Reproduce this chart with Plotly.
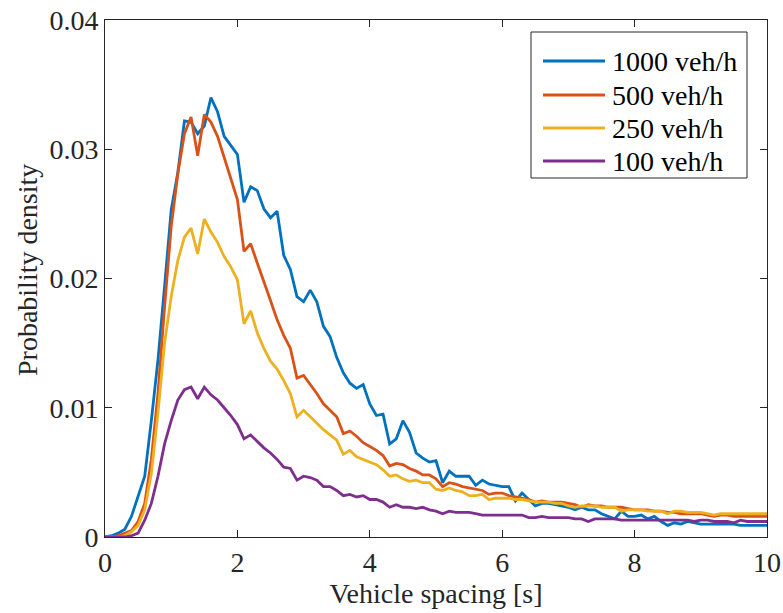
import numpy as np
import plotly.graph_objects as go

x_spacing = [round(i * 0.1, 1) for i in range(101)]

density_1000 = [0, 0.0001, 0.0003, 0.0006, 0.0016, 0.0031, 0.0047, 0.0090, 0.0137, 0.0194,
                0.0253, 0.0282, 0.0322, 0.0321, 0.0312, 0.0318, 0.0340, 0.0329, 0.0310, 0.0303,
                0.0296, 0.0259, 0.0271, 0.0268, 0.0254, 0.0247, 0.0252, 0.0218, 0.0207, 0.0186,
                0.0182, 0.0191, 0.0182, 0.0163, 0.0155, 0.0139, 0.0127, 0.0119, 0.0115, 0.0118,
                0.0103, 0.0094, 0.0095, 0.0072, 0.0076, 0.0090, 0.0081, 0.0065, 0.0061, 0.0058,
                0.0059, 0.0042, 0.0051, 0.0047, 0.0047, 0.0047, 0.0040, 0.0044, 0.0041, 0.0040,
                0.0039, 0.0039, 0.0028, 0.0034, 0.0029, 0.0024, 0.0026, 0.0026, 0.0025, 0.0024,
                0.0023, 0.0021, 0.0023, 0.0021, 0.0021, 0.0018, 0.0016, 0.0014, 0.0020, 0.0016,
                0.0016, 0.0017, 0.0014, 0.0016, 0.0012, 0.0009, 0.0011, 0.0010, 0.0012, 0.0011,
                0.0010, 0.0010, 0.0010, 0.0010, 0.0010, 0.0010, 0.0009, 0.0009, 0.0009, 0.0009,
                0.0009]

density_500 = [0, 0, 0.0001, 0.0003, 0.0005, 0.0012, 0.0026, 0.0060, 0.0111, 0.0178,
               0.0240, 0.0281, 0.0312, 0.0325, 0.0295, 0.0327, 0.0321, 0.0310, 0.0293, 0.0276,
               0.0261, 0.0221, 0.0227, 0.0212, 0.0198, 0.0183, 0.0168, 0.0156, 0.0146, 0.0123,
               0.0125, 0.0118, 0.0111, 0.0103, 0.0098, 0.0093, 0.0080, 0.0082, 0.0078, 0.0073,
               0.0070, 0.0067, 0.0063, 0.0055, 0.0057, 0.0056, 0.0053, 0.0051, 0.0048, 0.0048,
               0.0045, 0.0039, 0.0042, 0.0041, 0.0039, 0.0038, 0.0037, 0.0036, 0.0033, 0.0034,
               0.0034, 0.0032, 0.0031, 0.0030, 0.0029, 0.0027, 0.0028, 0.0027, 0.0027, 0.0027,
               0.0026, 0.0025, 0.0023, 0.0025, 0.0024, 0.0024, 0.0023, 0.0023, 0.0023, 0.0022,
               0.0021, 0.0021, 0.0021, 0.0020, 0.0020, 0.0019, 0.0019, 0.0018, 0.0018, 0.0018,
               0.0018, 0.0017, 0.0016, 0.0017, 0.0017, 0.0016, 0.0016, 0.0016, 0.0016, 0.0016,
               0.0016]

density_250 = [0, 0, 0, 0.0001, 0.0004, 0.0009, 0.0021, 0.0049, 0.0096, 0.0150,
               0.0186, 0.0214, 0.0232, 0.0239, 0.0219, 0.0246, 0.0236, 0.0228, 0.0217, 0.0209,
               0.0199, 0.0165, 0.0175, 0.0158, 0.0146, 0.0136, 0.0130, 0.0121, 0.0111, 0.0093,
               0.0098, 0.0093, 0.0088, 0.0083, 0.0079, 0.0075, 0.0064, 0.0067, 0.0062, 0.0060,
               0.0058, 0.0056, 0.0052, 0.0047, 0.0048, 0.0045, 0.0043, 0.0044, 0.0042, 0.0042,
               0.0037, 0.0036, 0.0038, 0.0036, 0.0035, 0.0032, 0.0032, 0.0033, 0.0029, 0.0030,
               0.0030, 0.0030, 0.0029, 0.0029, 0.0028, 0.0027, 0.0027, 0.0027, 0.0026, 0.0026,
               0.0024, 0.0023, 0.0024, 0.0024, 0.0024, 0.0023, 0.0023, 0.0023, 0.0020, 0.0021,
               0.0021, 0.0021, 0.0020, 0.0020, 0.0020, 0.0018, 0.0020, 0.0020, 0.0019, 0.0019,
               0.0019, 0.0018, 0.0017, 0.0018, 0.0018, 0.0018, 0.0018, 0.0018, 0.0018, 0.0018,
               0.0018]

density_100 = [0, 0, 0, 0, 0.0001, 0.0003, 0.0013, 0.0026, 0.0047, 0.0072,
               0.0090, 0.0106, 0.0114, 0.0116, 0.0107, 0.0116, 0.0110, 0.0106, 0.0100, 0.0094,
               0.0087, 0.0076, 0.0079, 0.0074, 0.0069, 0.0065, 0.0060, 0.0054, 0.0053, 0.0044,
               0.0047, 0.0046, 0.0044, 0.0039, 0.0039, 0.0036, 0.0032, 0.0033, 0.0031, 0.0032,
               0.0029, 0.0029, 0.0027, 0.0023, 0.0025, 0.0023, 0.0023, 0.0022, 0.0023, 0.0021,
               0.0020, 0.0018, 0.0020, 0.0019, 0.0019, 0.0019, 0.0018, 0.0017, 0.0017, 0.0017,
               0.0017, 0.0017, 0.0017, 0.0017, 0.0015, 0.0015, 0.0016, 0.0015, 0.0015, 0.0015,
               0.0015, 0.0014, 0.0014, 0.0012, 0.0014, 0.0014, 0.0014, 0.0014, 0.0013, 0.0013,
               0.0013, 0.0013, 0.0013, 0.0013, 0.0013, 0.0013, 0.0013, 0.0013, 0.0013, 0.0012,
               0.0013, 0.0013, 0.0012, 0.0012, 0.0012, 0.0011, 0.0013, 0.0012, 0.0012, 0.0012,
               0.0012]

series_names = ["1000 veh/h", "500 veh/h", "250 veh/h", "100 veh/h"]
series_values = [density_1000, density_500, density_250, density_100]
series_colors = ["#0072BD", "#D95319", "#EDB120", "#7E2F8E"]

x_ticks = [0, 2, 4, 6, 8, 10]
y_ticks = [0, 0.01, 0.02, 0.03, 0.04]
y_tick_labels = ["0", "0.01", "0.02", "0.03", "0.04"]

FONT = "Times New Roman, Liberation Serif, serif"
AXC = "#262626"
FS = 28
LW = 2.8

fig = go.Figure()
for name, vals, col in zip(series_names, series_values, series_colors):
    fig.add_trace(go.Scatter(x=x_spacing, y=vals, mode="lines", name=name,
                             line=dict(color=col, width=LW), showlegend=False))

W, H = 783, 613
ML, MR, MT, MB = 105, 16, 20, 76
pw, ph = W - ML - MR, H - MT - MB
def px(xp):
    return (xp - ML) / pw
def py(yp):
    return (H - MB - yp) / ph

# Legend box (MATLAB style)
fig.add_shape(type="rect", xref="paper", yref="paper",
              x0=px(531), x1=px(747), y0=py(178), y1=py(32),
              fillcolor="white", line=dict(color=AXC, width=1), layer="above")
entry_y = [61, 95, 128, 161]
for name, col, ey in zip(series_names, series_colors, entry_y):
    fig.add_shape(type="line", xref="paper", yref="paper",
                  x0=px(543), x1=px(605), y0=py(ey), y1=py(ey),
                  line=dict(color=col, width=LW), layer="above")
    fig.add_annotation(xref="paper", yref="paper", x=px(610), y=py(ey),
                       xanchor="left", yanchor="middle", text=name, showarrow=False,
                       font=dict(family=FONT, size=FS, color="black"))

# Y axis title
fig.add_annotation(xref="paper", yref="paper", x=px(27), y=py(270),
                   xanchor="center", yanchor="middle", textangle=-90,
                   text="Probability density", showarrow=False,
                   font=dict(family=FONT, size=FS, color=AXC))

fig.update_layout(
    width=W, height=H,
    margin=dict(l=ML, r=MR, t=MT, b=MB, autoexpand=False),
    paper_bgcolor="white", plot_bgcolor="white",
    font=dict(family=FONT, size=FS, color=AXC),
    showlegend=False,
)
fig.update_xaxes(range=[0, 10], tickvals=x_ticks, ticks="inside", ticklen=7,
                 tickcolor=AXC, showline=True, linecolor=AXC, linewidth=1, mirror="ticks",
                 showgrid=False, zeroline=False, automargin=False,
                 title=dict(text="Vehicle spacing [s]", font=dict(family=FONT, size=FS, color=AXC), standoff=4),
                 tickfont=dict(family=FONT, size=FS, color=AXC))
fig.update_yaxes(range=[0, 0.04], tickvals=y_ticks, ticktext=y_tick_labels, ticks="inside", ticklen=7,
                 tickcolor=AXC, showline=True, linecolor=AXC, linewidth=1, mirror="ticks",
                 showgrid=False, zeroline=False, automargin=False,
                 tickfont=dict(family=FONT, size=FS, color=AXC))

fig.write_html("out.html", config={"displayModeBar": False},
               post_script="document.body.style.margin='0';document.body.style.overflow='hidden';")
